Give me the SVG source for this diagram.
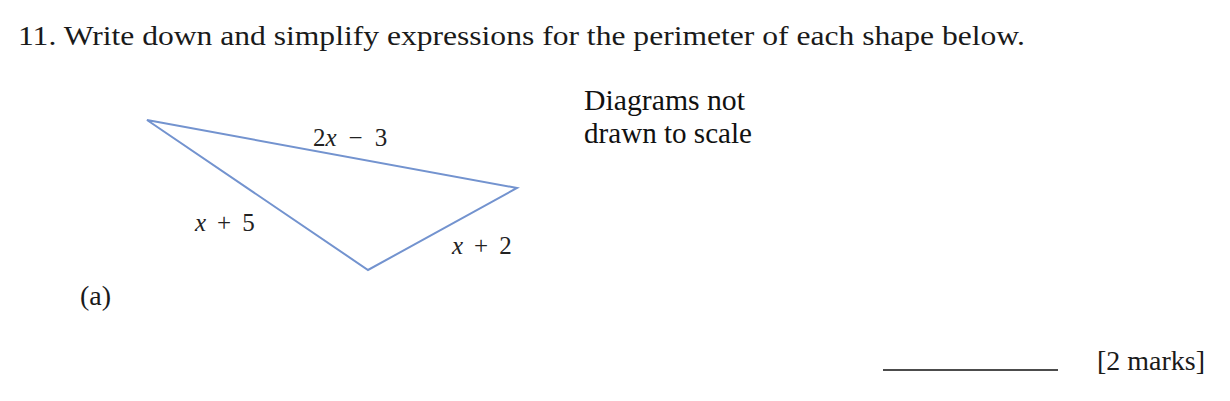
<svg xmlns="http://www.w3.org/2000/svg" width="1230" height="401" viewBox="0 0 1230 401">
<style>
.cm{font-family:"Liberation Serif","DejaVu Serif",serif;fill:#1a1a1a}
.lbl{font-family:"Liberation Serif","DejaVu Serif",serif;font-size:25px;fill:#222}
.note{font-family:"Liberation Serif","DejaVu Serif",serif;font-size:29px;fill:#111}
</style>
<rect width="1230" height="401" fill="#fff"/>
<text class="cm" x="18" y="45" font-size="28" textLength="1007" lengthAdjust="spacingAndGlyphs">11. Write down and simplify expressions for the perimeter of each shape below.</text>
<g id="note">
<text class="note" x="584" y="110" textLength="161" lengthAdjust="spacingAndGlyphs">Diagrams not</text>
<text class="note" x="584" y="143" textLength="168" lengthAdjust="spacingAndGlyphs">drawn to scale</text>
</g>
<g id="triangle">
<polygon points="147,120 517,188 368,270" fill="none" stroke="#7393cf" stroke-width="2"/>
</g>
<g id="labels">
<text class="lbl" x="313" y="146">2<tspan font-style="italic">x</tspan><tspan dx="12">−</tspan><tspan dx="12">3</tspan></text>
<text class="lbl" x="195" y="231"><tspan font-style="italic">x</tspan><tspan dx="11">+</tspan><tspan dx="11">5</tspan></text>
<text class="lbl" x="452" y="254"><tspan font-style="italic">x</tspan><tspan dx="11">+</tspan><tspan dx="11">2</tspan></text>
</g>
<text class="cm" x="80" y="305" font-size="28">(a)</text>
<line x1="883" y1="370" x2="1058" y2="370" stroke="#111" stroke-width="1.5"/>
<text class="cm" x="1097" y="370" font-size="28">[2 marks]</text>
</svg>
